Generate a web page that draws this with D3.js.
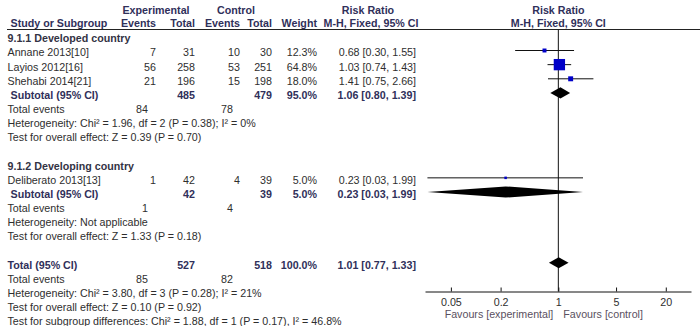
<!DOCTYPE html>
<html>
<head>
<meta charset="utf-8">
<script src="https://cdn.jsdelivr.net/npm/d3@7"></script>
<style>
  html, body { margin: 0; padding: 0; background: #fff; }
  svg text { font-family: "Liberation Sans", Arial, sans-serif; font-size: 10.7px; }
</style>
</head>
<body>
<svg id="chart" width="700" height="326"></svg>
<script>
// ---- study-level data ----
const studies    = ["Annane 2013[10]", "Layios 2012[16]", "Shehabi 2014[21]", "Deliberato 2013[13]"];
const studyGroup = [0, 0, 0, 1];
const expEvents  = [7, 56, 21, 1];
const expTotal   = [31, 258, 196, 42];
const ctrlEvents = [10, 53, 15, 4];
const ctrlTotal  = [30, 251, 198, 39];
const weights    = [12.3, 64.8, 18.0, 5.0];
const rr         = [0.68, 1.03, 1.41, 0.23];
const rrLow      = [0.30, 0.74, 0.75, 0.026];
const rrHigh     = [1.55, 1.43, 2.66, 1.99];

// ---- subgroup summaries ----
const groupNames      = ["9.1.1 Developed country", "9.1.2 Developing country"];
const groupExpTotal   = [485, 42];
const groupCtrlTotal  = [479, 39];
const groupWeight     = [95.0, 5.0];
const groupRR         = [1.06, 0.23];
const groupLow        = [0.80, 0.026];
const groupHigh       = [1.39, 1.99];
const groupExpEvents  = [84, 1];
const groupCtrlEvents = [78, 4];
const groupHet  = ["Heterogeneity: Chi² = 1.96, df = 2 (P = 0.38); I² = 0%", "Heterogeneity: Not applicable"];
const groupTest = ["Test for overall effect: Z = 0.39 (P = 0.70)", "Test for overall effect: Z = 1.33 (P = 0.18)"];

// ---- overall summary ----
const totalExp = 527, totalCtrl = 518, totalWeight = 100.0;
const totalRR = 1.01, totalLow = 0.77, totalHigh = 1.33;
const totalExpEvents = 85, totalCtrlEvents = 82;
const totalHet  = "Heterogeneity: Chi² = 3.80, df = 3 (P = 0.28); I² = 21%";
const totalTest = "Test for overall effect: Z = 0.10 (P = 0.92)";
const subgroupDiff = "Test for subgroup differences: Chi² = 1.88, df = 1 (P = 0.17), I² = 46.8%";

// ---- axis ----
const tickValues = [0.05, 0.2, 1, 5, 20];
const favourLeft = "Favours [experimental]";
const favourRight = "Favours [control]";

// ---- layout ----
const svg = d3.select("#chart");
const textColor = "#2e2e2e";
const headColor = "#30305a";
const col = { study: 7.5, studyIndent: 10.5, expEv: 156, expTot: 195, ctlEv: 240, ctlTot: 272, weight: 317, rr: 416, evTot: 148, ctlEvTot: 233 };
const rowStart = 36.35, rowStep = 14.15, textDy = 5.9;
const x = d3.scaleLog().domain([0.0243, 40.4]).range([425, 691]);
const axisY = 291.5;
const sizeScale = d3.scalePow().exponent(0.75).domain([0, 100]).range([1, 15.3]);
const fmt2 = d3.format(".2f");
const fmt1 = d3.format(".1f");
const ciText = (m, l, h) => `${fmt2(m)} [${fmt2(l)}, ${fmt2(h)}]`;

// build the row list
const rows = [];
groupNames.forEach((g, gi) => {
  rows.push({ kind: "group", label: g });
  studies.forEach((s, i) => { if (studyGroup[i] === gi) rows.push({ kind: "study", i }); });
  rows.push({ kind: "subtotal", gi });
  rows.push({ kind: "events", exp: groupExpEvents[gi], ctl: groupCtrlEvents[gi] });
  rows.push({ kind: "note", label: groupHet[gi] });
  rows.push({ kind: "note", label: groupTest[gi] });
  rows.push({ kind: "blank" });
});
rows.push({ kind: "total" });
rows.push({ kind: "events", exp: totalExpEvents, ctl: totalCtrlEvents });
rows.push({ kind: "note", label: totalHet });
rows.push({ kind: "note", label: totalTest });
rows.push({ kind: "note", label: subgroupDiff });
const rowY = i => rowStart + i * rowStep;

// header
const head = svg.append("g").attr("fill", headColor).attr("font-weight", "bold");
function htext(xp, y, t, anchor) {
  head.append("text").attr("x", xp).attr("y", y).attr("text-anchor", anchor).text(t);
}
htext(156, 13.9, "Experimental", "middle");
htext(236, 13.9, "Control", "middle");
htext(368, 13.9, "Risk Ratio", "middle");
htext(x(1), 13.9, "Risk Ratio", "middle");
htext(col.studyIndent, 27.4, "Study or Subgroup", "start");
htext(col.expEv, 27.4, "Events", "end");
htext(col.expTot, 27.4, "Total", "end");
htext(col.ctlEv, 27.4, "Events", "end");
htext(col.ctlTot, 27.4, "Total", "end");
htext(col.weight, 27.4, "Weight", "end");
htext(371, 27.4, "M-H, Fixed, 95% CI", "middle");
htext(x(1), 27.4, "M-H, Fixed, 95% CI", "middle");

svg.append("line").attr("x1", 7).attr("x2", 700).attr("y1", 29.5).attr("y2", 29.5)
  .attr("stroke", "#222").attr("stroke-width", 1);

// line of no effect
svg.append("line").attr("x1", x(1)).attr("x2", x(1)).attr("y1", 29.5).attr("y2", axisY)
  .attr("stroke", "#111").attr("stroke-width", 1);

const body = svg.append("g");
function t(xp, y, s, anchor, bold, color) {
  body.append("text").attr("x", xp).attr("y", y + textDy)
    .attr("text-anchor", anchor || "start")
    .attr("font-weight", bold ? "bold" : "normal")
    .attr("fill", color || textColor).text(s);
}
function diamond(y, m, l, h) {
  const hh = 5.6;
  body.append("path")
    .attr("d", `M${x(l)},${y} L${x(m)},${y - hh} L${x(h)},${y} L${x(m)},${y + hh} Z`)
    .attr("fill", "#000");
}

rows.forEach((r, ri) => {
  const y = rowY(ri);
  if (r.kind === "group") {
    t(col.study, y, r.label, "start", true, "#333344");
  } else if (r.kind === "study") {
    const i = r.i;
    t(col.study, y, studies[i]);
    t(col.expEv, y, expEvents[i], "end");
    t(col.expTot, y, expTotal[i], "end");
    t(col.ctlEv, y, ctrlEvents[i], "end");
    t(col.ctlTot, y, ctrlTotal[i], "end");
    t(col.weight, y, fmt1(weights[i]) + "%", "end");
    t(col.rr, y, ciText(rr[i], rrLow[i], rrHigh[i]), "end");
    body.append("line").attr("x1", x(rrLow[i])).attr("x2", x(rrHigh[i]))
      .attr("y1", y).attr("y2", y).attr("stroke", "#111").attr("stroke-width", 1);
    const s = sizeScale(weights[i]);
    body.append("rect").attr("x", x(rr[i]) - s / 2).attr("y", y - s / 2)
      .attr("width", s).attr("height", s).attr("fill", "#0000c8");
  } else if (r.kind === "subtotal") {
    const gi = r.gi;
    t(col.studyIndent, y, "Subtotal (95% CI)", "start", true, headColor);
    t(col.expTot, y, groupExpTotal[gi], "end", true, headColor);
    t(col.ctlTot, y, groupCtrlTotal[gi], "end", true, headColor);
    t(col.weight, y, fmt1(groupWeight[gi]) + "%", "end", true, headColor);
    t(col.rr, y, ciText(groupRR[gi], groupLow[gi], groupHigh[gi]), "end", true, headColor);
    diamond(y, groupRR[gi], groupLow[gi], groupHigh[gi]);
  } else if (r.kind === "events") {
    t(col.study, y, "Total events");
    t(col.evTot, y, r.exp, "end");
    t(col.ctlEvTot, y, r.ctl, "end");
  } else if (r.kind === "note") {
    t(col.study, y, r.label);
  } else if (r.kind === "total") {
    t(col.study, y, "Total (95% CI)", "start", true, headColor);
    t(col.expTot, y, totalExp, "end", true, headColor);
    t(col.ctlTot, y, totalCtrl, "end", true, headColor);
    t(col.weight, y, fmt1(totalWeight) + "%", "end", true, headColor);
    t(col.rr, y, ciText(totalRR, totalLow, totalHigh), "end", true, headColor);
    diamond(y, totalRR, totalLow, totalHigh);
  }
});

// log axis
const axis = d3.axisBottom(x).tickValues(tickValues)
  .tickFormat(d3.format("~g")).tickSizeInner(-4).tickSizeOuter(0).tickPadding(7);
const ag = svg.append("g").attr("transform", `translate(0,${axisY})`).call(axis);
ag.select(".domain").attr("stroke", "#111");
ag.selectAll(".tick line").attr("stroke", "#111");
ag.selectAll(".tick text").attr("fill", textColor)
  .style("font-family", "'Liberation Sans', Arial, sans-serif").style("font-size", "10.7px");

svg.append("text").attr("x", x(1) - 5).attr("y", 317.5).attr("text-anchor", "end")
  .attr("fill", "#5a5060").text(favourLeft);
svg.append("text").attr("x", x(1) + 5).attr("y", 317.5).attr("text-anchor", "start")
  .attr("fill", "#5a5060").text(favourRight);
</script>
</body>
</html>
